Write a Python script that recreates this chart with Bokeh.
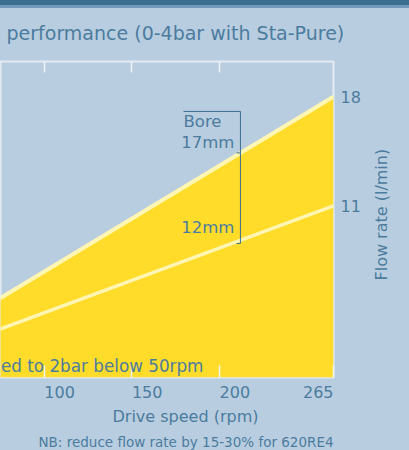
import math
from bokeh.plotting import figure
from bokeh.models import Range1d, FixedTicker, LinearAxis, Title, Label
from bokeh.embed import file_html
from bokeh.resources import INLINE

# ---- data ----
speed_rpm = [0, 265]
flow_17mm = [0, 18]
flow_12mm = [0, 11]
x_ticks = [100, 150, 200, 265]
x_tick_labels = ["100", "150", "200", "265"]
y_ticks = [11, 18]
bore_labels = ["Bore", "17mm", "12mm"]
y_title = "Flow rate (l/min)"

# ---- styles ----
BG = "#b9cde0"
TXT = "#4b7c9e"
YELLOW = "#ffdc2a"
PALE = "#fff6b3"
BRACKET = "#3d6d8f"
TICK = "#eef3f7"
FONT = "DejaVu Sans"
PAD = "\u00a0" * 6
Y_TITLE_START = 97  # helper position (px from frame bottom) where the rotated title starts

p = figure(frame_width=333, frame_height=316,
           min_border_left=0, min_border_right=76,
           min_border_top=61, min_border_bottom=73,
           x_range=Range1d(75, 265), y_range=Range1d(0, 20.25),
           y_axis_location="right", toolbar_location=None,
           output_backend="svg", title="performance (0-4bar with Sta-Pure)")
p.extra_y_ranges = {"label": Range1d(0, 316)}

p.styles = {
    "position": "absolute", "left": "0px", "top": "0px",
    "background": "linear-gradient(to bottom, #3c6e92 0px, #3c6e92 5px, "
                  "#7199b9 5px, #7199b9 8px, " + BG + " 8px)",
}
p.border_fill_alpha = 0
p.background_fill_color = BG
p.outline_line_color = "#e3eaf0"
p.outline_line_width = 2
p.grid.visible = False

# title
p.title.align = "left"
p.title.offset = 6
p.title.text_font = FONT
p.title.text_font_size = "19px"
p.title.text_font_style = "normal"
p.title.text_color = TXT
p.title.standoff = 35

# fills and lines
p.varea(x=speed_rpm, y1=[0] * len(speed_rpm), y2=flow_17mm, fill_color=YELLOW)
p.line(x=speed_rpm, y=flow_17mm, line_color=PALE, line_width=4)
p.line(x=speed_rpm, y=flow_12mm, line_color=PALE, line_width=3.5)

# bottom axis
xa = p.xaxis[0]
xa.ticker = FixedTicker(ticks=x_ticks)
overrides = {}
for t, lbl in zip(x_ticks, x_tick_labels):
    overrides[t] = (lbl + PAD) if t == x_ticks[-1] else (PAD + lbl)
xa.major_label_overrides = overrides
xa.major_tick_in = 12
xa.major_tick_out = 0
xa.major_tick_line_color = TICK
xa.major_tick_line_width = 1.5
xa.minor_tick_line_color = None
xa.axis_line_color = None
xa.major_label_text_font = FONT
xa.major_label_text_font_size = "16px"
xa.major_label_text_color = TXT
xa.major_label_standoff = 5

# top axis (ticks only)
ta = LinearAxis(ticker=FixedTicker(ticks=x_ticks[:-1]), major_tick_in=11, major_tick_out=0,
                major_tick_line_color=TICK, major_tick_line_width=1.5,
                minor_tick_line_color=None, axis_line_color=None,
                major_label_text_font_size="1px", major_label_text_alpha=0,
                major_label_standoff=0)
p.add_layout(ta, "above")

# right axis (values)
ya = p.yaxis[0]
ya.ticker = FixedTicker(ticks=y_ticks)
ya.major_tick_line_color = None
ya.minor_tick_line_color = None
ya.axis_line_color = None
ya.major_label_text_font = FONT
ya.major_label_text_font_size = "16px"
ya.major_label_text_color = TXT
ya.major_label_standoff = 1

# right axis carrying the rotated axis title (reads bottom to top)
la = LinearAxis(y_range_name="label", ticker=FixedTicker(ticks=[Y_TITLE_START]),
                major_label_overrides={Y_TITLE_START: y_title},
                major_label_orientation=math.pi / 2,
                major_tick_line_color=None, minor_tick_line_color=None, axis_line_color=None,
                major_label_text_font=FONT, major_label_text_font_size="16px",
                major_label_text_color=TXT, major_label_standoff=12)
p.add_layout(la, "right")

# below titles
p.add_layout(Title(text="Drive speed (rpm)", align="left", offset=112, standoff=0,
                   text_font=FONT, text_font_size="16px", text_font_style="normal",
                   text_color=TXT), "below")
p.add_layout(Title(text="NB: reduce flow rate by 15-30% for 620RE4", align="left", offset=38,
                   standoff=12, text_font=FONT, text_font_size="13.5px",
                   text_font_style="normal", text_color=TXT), "below")

# bore bracket
bore_x = 211.9
top_y, bot_y = 17.05, 8.59
mid_y = flow_17mm[-1] * bore_x / speed_rpm[-1]
p.segment(x0=[bore_x, 179.4, 209.7, 209.7], y0=[bot_y, top_y, mid_y, bot_y],
          x1=[bore_x, bore_x, bore_x, bore_x], y1=[top_y, top_y, mid_y, bot_y],
          line_color=BRACKET, line_width=1)

for txt, lx, ly in zip(bore_labels, [179.4, 178.1, 178.1], [16.4, 15.05, 9.6]):
    p.add_layout(Label(x=lx, y=ly, text=txt, text_align="left", text_baseline="alphabetic",
                       text_font=FONT, text_font_size="16.5px", text_color=TXT))

p.add_layout(Label(x=190.8, y=0.72, text="ed to 2bar below 50rpm", text_align="right",
                   text_baseline="alphabetic", text_font=FONT, text_font_size="16.8px",
                   text_color=TXT))

open("out.html", "w").write(file_html(p, INLINE))
